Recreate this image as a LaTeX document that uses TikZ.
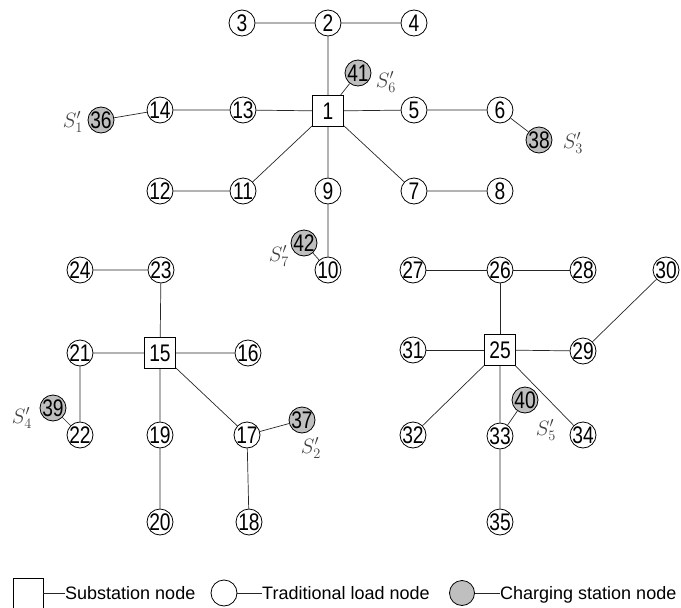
\documentclass[tikz,border=0pt]{standalone}
\usepackage{fontspec}
\setmainfont{Liberation Sans}
\newfontfamily\numfont[FakeStretch=0.8]{Liberation Sans}
\usetikzlibrary{positioning}

\begin{document}
\begin{tikzpicture}[x=1pt,y=-1pt,
    sub/.style={draw,line width=0.8pt,minimum size=31pt,inner sep=0pt,font=\numfont\fontsize{24}{24}\selectfont},
    load/.style={draw,circle,line width=0.8pt,minimum size=26pt,inner sep=-1.2pt,font=\numfont\fontsize{24}{24}\selectfont},
    chg/.style={load,fill=black!25},
    lbl/.style={text=black!75,inner sep=0pt,font=\fontsize{21}{21}\selectfont},
    br/.style={line width=0.7pt,black!85},
    legtext/.style={anchor=base west,inner sep=0pt,font=\fontsize{18}{18}\selectfont}]
    \clip (0,0) rectangle (681,608);
    \node[sub] (n1) at (328,111) {1};
    \node[load] (n2) at (328,23) {2};
    \node[load] (n3) at (242,23) {3};
    \node[load] (n4) at (414,23) {4};
    \node[load] (n5) at (414,110) {5};
    \node[load] (n6) at (500,110) {6};
    \node[load] (n7) at (414,191) {7};
    \node[load] (n8) at (500,191) {8};
    \node[load] (n9) at (328,191) {9};
    \node[load] (n10) at (328,270) {10};
    \node[load] (n11) at (243,191) {11};
    \node[load] (n12) at (160,191) {12};
    \node[load] (n13) at (243,110) {13};
    \node[load] (n14) at (160,110) {14};
    \node[sub] (n15) at (160,353) {15};
    \node[load] (n16) at (248,353) {16};
    \node[load] (n17) at (247,435) {17};
    \node[load] (n18) at (249,522) {18};
    \node[load] (n19) at (160,435) {19};
    \node[load] (n20) at (160,522) {20};
    \node[load] (n21) at (80,353) {21};
    \node[load] (n22) at (80,435) {22};
    \node[load] (n23) at (161,270) {23};
    \node[load] (n24) at (80,270) {24};
    \node[sub] (n25) at (500,350) {25};
    \node[load] (n26) at (500,270) {26};
    \node[load] (n27) at (413,270) {27};
    \node[load] (n28) at (583,270) {28};
    \node[load] (n29) at (583,351) {29};
    \node[load] (n30) at (666,270) {30};
    \node[load] (n31) at (413,350) {31};
    \node[load] (n32) at (413,435) {32};
    \node[load] (n33) at (500,436) {33};
    \node[load] (n34) at (583,435) {34};
    \node[load] (n35) at (500,522) {35};
    \node[chg] (n36) at (101,120) {36};
    \node[chg] (n37) at (302,420) {37};
    \node[chg] (n38) at (539,140) {38};
    \node[chg] (n39) at (53,408) {39};
    \node[chg] (n40) at (525,400) {40};
    \node[chg] (n41) at (358,73) {41};
    \node[chg] (n42) at (304,243) {42};
    \draw[br] (n2) -- (n3) (n2) -- (n4) (n2) -- (n1) (n1) -- (n41);
    \draw[br] (n1) -- (n13) (n13) -- (n14) (n14) -- (n36);
    \draw[br] (n1) -- (n5) (n5) -- (n6) (n6) -- (n38);
    \draw[br] (n1) -- (n11) (n11) -- (n12) (n1) -- (n7) (n7) -- (n8);
    \draw[br] (n1) -- (n9) (n9) -- (n10) (n10) -- (n42);
    \draw[br] (n23) -- (n24) (n23) -- (n15) (n15) -- (n21) (n15) -- (n16);
    \draw[br] (n21) -- (n22) (n22) -- (n39) (n15) -- (n19) (n19) -- (n20);
    \draw[br] (n15) -- (n17) (n17) -- (n18) (n17) -- (n37);
    \draw[br] (n26) -- (n27) (n26) -- (n28) (n26) -- (n25) (n25) -- (n31);
    \draw[br] (n25) -- (n29) (n29) -- (n30) (n25) -- (n32) (n25) -- (n34);
    \draw[br] (n25) -- (n33) (n33) -- (n35) (n33) -- (n40);
    \node[lbl] (s1) at (73,122) {$S_1'$};
    \node[lbl] (s2) at (311,448) {$S_2'$};
    \node[lbl] (s3) at (573,143) {$S_3'$};
    \node[lbl] (s4) at (22,418) {$S_4'$};
    \node[lbl] (s5) at (546,430) {$S_5'$};
    \node[lbl] (s6) at (386,82) {$S_6'$};
    \node[lbl] (s7) at (279,256) {$S_7'$};
    \node[draw,line width=0.8pt,minimum width=30pt,minimum height=36pt,inner sep=0pt] (ls) at (28,596) {};
    \node[legtext] (lt1) at (65,599) {Substation node};
    \node[draw,circle,line width=0.8pt,minimum size=26pt,inner sep=0pt] (lc) at (224,593) {};
    \node[legtext] (lt2) at (262,599) {Traditional load node};
    \node[draw,circle,line width=0.8pt,fill=black!25,minimum size=25pt,inner sep=0pt] (lg) at (462,593) {};
    \node[legtext] (lt3) at (500,599) {Charging station node};
    \draw[br] (ls.east |- lc) -- (lt1.west |- lc);
    \draw[br] (lc) -- (lt2.west |- lc);
    \draw[br] (lg) -- (lt3.west |- lg);
  \end{tikzpicture}
\end{document}
